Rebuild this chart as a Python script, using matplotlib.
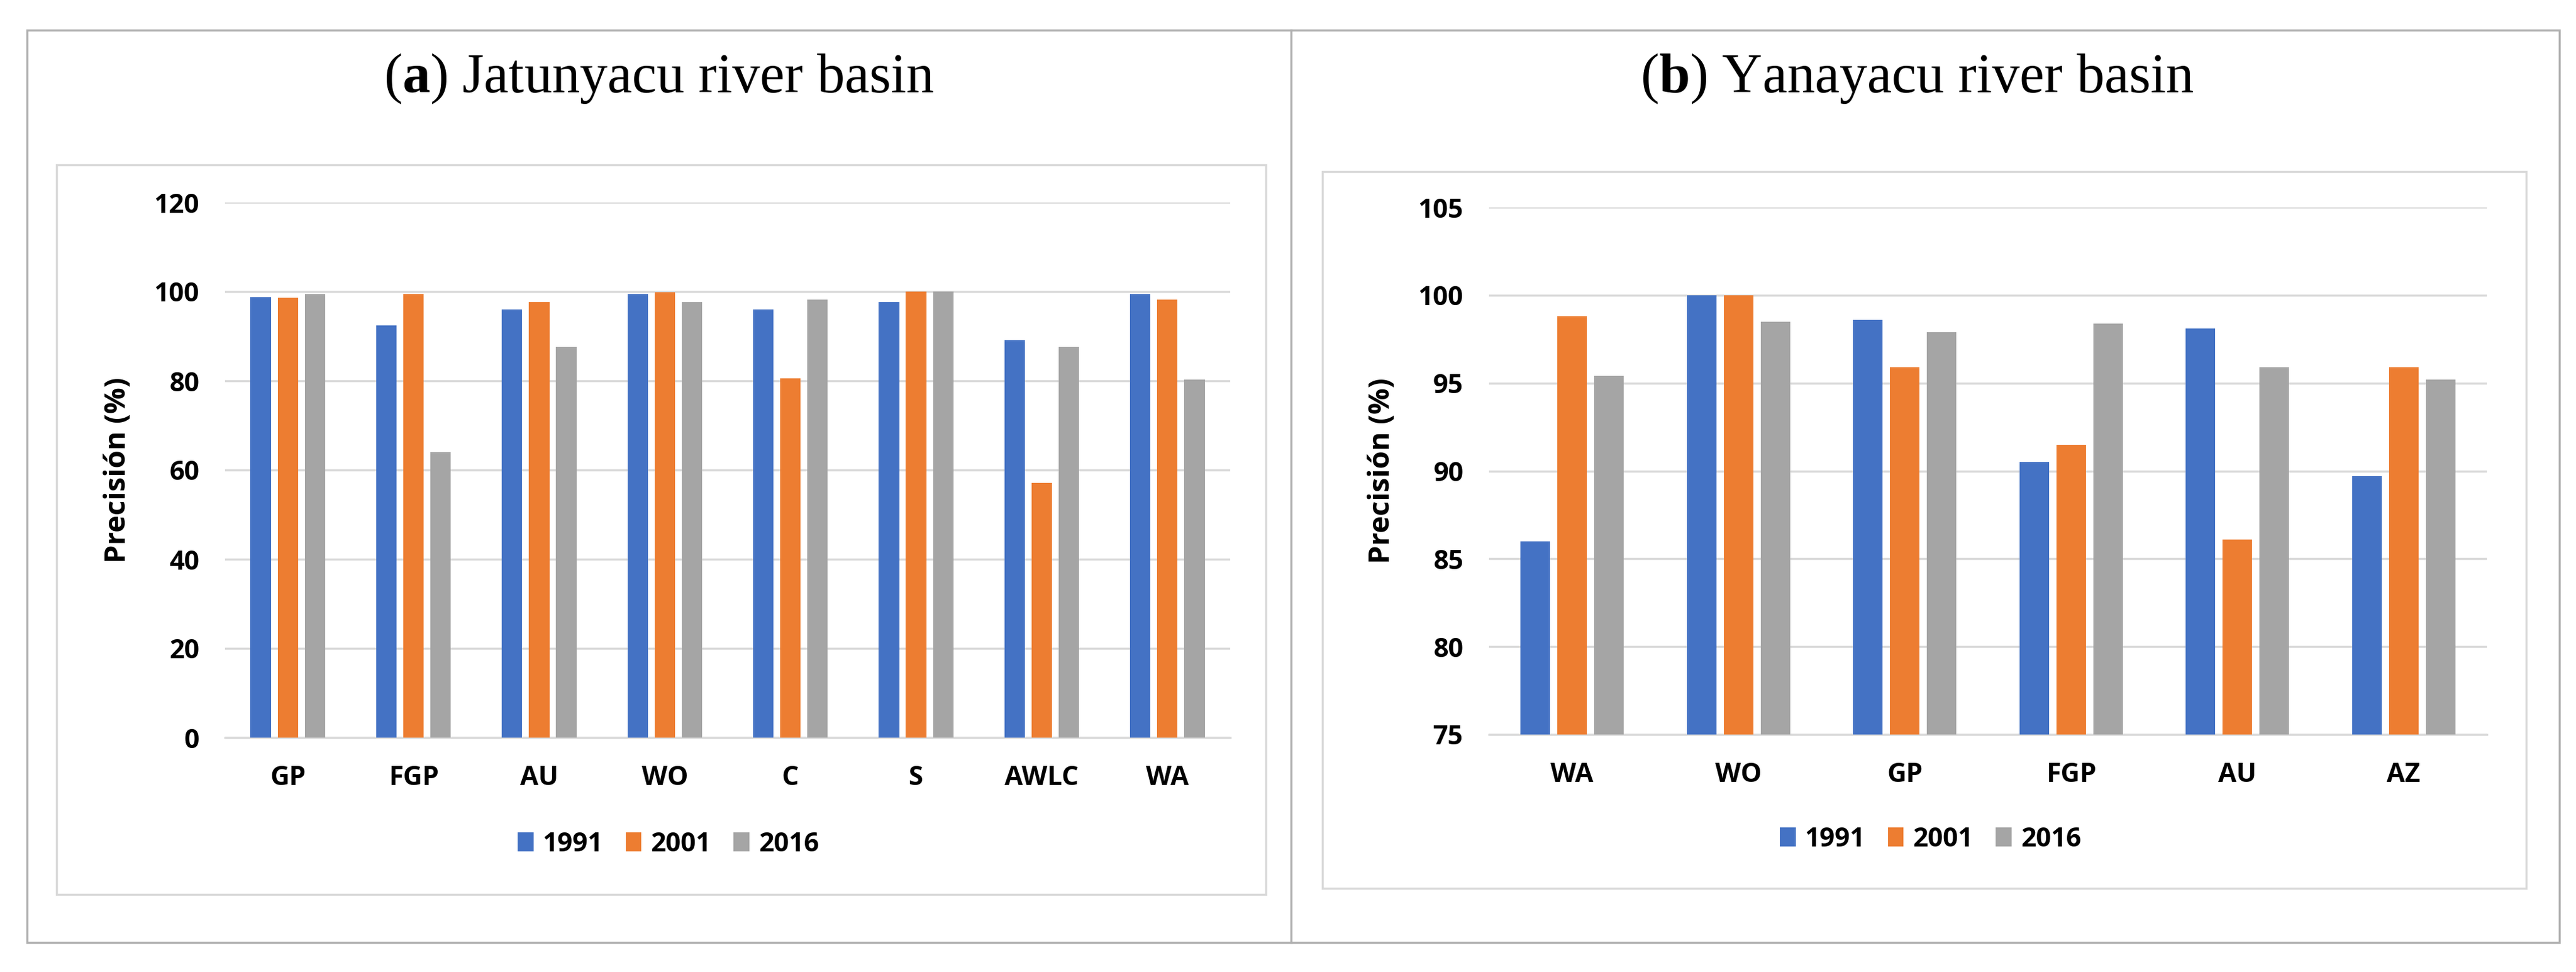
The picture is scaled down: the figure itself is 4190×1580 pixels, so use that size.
import numpy as np
import matplotlib
matplotlib.use('Agg')
import matplotlib.pyplot as plt
from matplotlib.patches import Rectangle

# data
years = ['1991', '2001', '2016']
colors = ['#4472C4', '#ED7D31', '#A5A5A5']

cats_a = ['GP', 'FGP', 'AU', 'WO', 'C', 'S', 'AWLC', 'WA']
a_1991 = [98.8, 92.4, 96.0, 99.4, 96.0, 97.6, 89.1, 99.4]
a_2001 = [98.6, 99.4, 97.6, 99.8, 80.5, 100.0, 57.1, 98.2]
a_2016 = [99.4, 64.0, 87.6, 97.6, 98.2, 100.0, 87.6, 80.3]

cats_b = ['WA', 'WO', 'GP', 'FGP', 'AU', 'AZ']
b_1991 = [86.0, 100.0, 98.6, 90.5, 98.1, 89.7]
b_2001 = [98.8, 100.0, 95.9, 91.5, 86.1, 95.9]
b_2016 = [95.4, 98.5, 97.9, 98.4, 95.9, 95.2]

W, H = 4190, 1580
plt.rcParams['mathtext.fontset'] = 'custom'
plt.rcParams['mathtext.rm'] = 'Liberation Serif'
plt.rcParams['mathtext.bf'] = 'Liberation Serif:bold'

fig = plt.figure(figsize=(W / 100, H / 100), dpi=100)
fig.patch.set_facecolor('white')

# frame layer in pixel coords
bg = fig.add_axes([0, 0, 1, 1])
bg.set_xlim(0, W)
bg.set_ylim(H, 0)
bg.axis('off')
bg.add_patch(Rectangle((44, 49), 4119, 1483, fill=False, ec='#B0B0B0', lw=2.5))
bg.plot([2100, 2100], [49, 1532], color='#B0B0B0', lw=2.5)
bg.add_patch(Rectangle((92, 268), 1967, 1186, fill=False, ec='#D9D9D9', lw=2.5))
bg.add_patch(Rectangle((2151, 279), 1958, 1165, fill=False, ec='#D9D9D9', lw=2.5))

bg.text(1072, 128, r'($\mathbf{a}$) Jatunyacu river basin', ha='center', va='center',
        fontsize=65, family='Liberation Serif')
bg.text(3118, 128, r'($\mathbf{b}$) Yanayacu river basin', ha='center', va='center',
        fontsize=65, family='Liberation Serif')

tick_font = dict(family='Open Sans', weight='bold', size=31)


def bar_panel(rect, cats, series, width, step, ylim, yticks, leg_xy):
    ax = fig.add_axes(rect)
    x = np.arange(len(cats))
    handles = []
    for i, vals in enumerate(series):
        h = ax.bar(x + (i - 1) * step, np.array(vals) - ylim[0], width, bottom=ylim[0],
                   color=colors[i], label=years[i], zorder=3)
        handles.append(h)
    ax.set_xlim(-0.5, len(cats) - 0.5)
    ax.set_ylim(*ylim)
    ax.set_yticks(yticks)
    ax.set_yticklabels([str(t) for t in yticks], **tick_font)
    ax.set_xticks(x)
    ax.set_xticklabels(cats, **tick_font)
    ax.tick_params(length=0, pad=30)
    ax.tick_params(axis='x', pad=32)
    ax.grid(axis='y', color='#D9D9D9', lw=2.5, zorder=0)
    for s in ['top', 'right', 'left']:
        ax.spines[s].set_visible(False)
    ax.spines['bottom'].set_color('#D9D9D9')
    ax.spines['bottom'].set_linewidth(2.5)
    ax.set_ylabel('Precisión (%)', family='Open Sans', weight='bold', size=34, labelpad=26)
    ax.set_facecolor('none')
    fig.legend(handles=handles, loc='center', bbox_to_anchor=(leg_xy[0] / W, 1 - leg_xy[1] / H),
               ncol=3, frameon=False, prop=dict(family='Open Sans', weight='bold', size=31),
               handlelength=0.6, handleheight=0.7, handletextpad=0.35, columnspacing=0.85)
    return ax


bar_panel([366 / W, 1 - 1199 / H, 1635 / W, 870 / H], cats_a, [a_1991, a_2001, a_2016],
          0.163, 0.216, (0, 120), [0, 20, 40, 60, 80, 100, 120], (1087, 1372))
bar_panel([2422 / W, 1 - 1194 / H, 1623 / W, 857 / H], cats_b, [b_1991, b_2001, b_2016],
          0.178, 0.222, (75, 105), [75, 80, 85, 90, 95, 100, 105], (3140, 1364))

fig.savefig('out.png', dpi=100)
